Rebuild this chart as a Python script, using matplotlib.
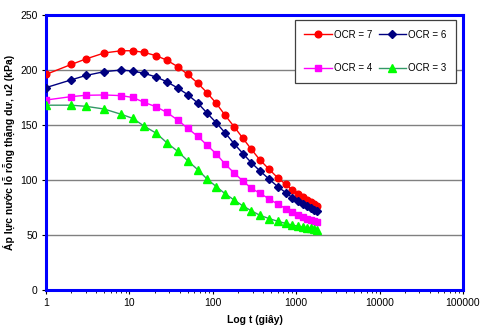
import matplotlib
matplotlib.use("Agg")
import matplotlib.pyplot as plt
from matplotlib.ticker import LogLocator, NullFormatter, FixedLocator

plt.rcParams['font.family'] = ['Liberation Sans', 'DejaVu Sans']

t = [1, 2, 3, 5, 8, 11, 15, 21, 28, 38, 50, 66, 85, 110, 140, 180, 230, 290,
     365, 470, 600, 750, 900, 1050, 1200, 1350, 1500, 1650, 1800]

ocr7 = [196, 205, 210, 215.5, 217.5, 217.5, 216, 213, 209, 203, 196, 188, 179.5,
        169.7, 159, 148.5, 137.9, 127.9, 118.5, 110, 102, 96, 91, 87.5, 84.5, 82,
        80, 78, 76.5]
ocr6 = [184, 191, 195, 198.5, 200, 199, 197, 193.6, 189.4, 183.6, 177.6, 170, 161,
        152, 143, 133, 124, 115.7, 108.5, 101, 94, 88.5, 84, 81, 78, 76, 74.5,
        73, 71.5]
ocr4 = [172.7, 175.8, 177, 177.3, 176.7, 175, 170.6, 166.5, 161.5, 154.5, 147, 139.7,
        131.8, 123.7, 114.6, 106.4, 99, 92.5, 88, 83, 78, 74, 70.5, 68, 66, 64.5,
        63.5, 62.5, 62]
ocr3 = [168, 168, 167, 164.5, 159.7, 156, 149, 142.5, 134, 126, 117.5, 109.4, 101,
        94, 87.6, 81.8, 76.4, 72, 68, 65, 62.5, 60.5, 59, 58, 57, 56.5, 56, 55.5, 55]

labels = ["OCR = 7", "OCR = 6", "OCR = 4", "OCR = 3"]
xticks = [1, 10, 100, 1000, 10000, 100000]
xticklabels = ["1", "10", "100", "1000", "10000", "100000"]
yticks = [0, 50, 100, 150, 200, 250]

fig = plt.figure(figsize=(4.81, 3.33), dpi=100)
ax = fig.add_axes([46/481, 1-290/333, 417/481, 275/333])

l7, = ax.plot(t, ocr7, color='#FF0000', lw=1, marker='o', ms=4.8,
              mfc='#FF0000', mec='#FF0000', label=labels[0], zorder=5)
l6, = ax.plot(t, ocr6, color='#000080', lw=1, marker='D', ms=3.8,
              mfc='#000080', mec='#000080', label=labels[1], zorder=5)
l4, = ax.plot(t, ocr4, color='#FF00FF', lw=1, marker='s', ms=4.5,
              mfc='#FF00FF', mec='#FF00FF', label=labels[2], zorder=5)
l3, = ax.plot(t, ocr3, color='#339966', lw=1, marker='^', ms=5.2,
              mfc='#00FF00', mec='#00FF00', label=labels[3], zorder=5)

ax.set_xscale('log')
ax.set_xlim(1, 100000)
ax.set_ylim(0, 250)
ax.xaxis.set_major_locator(FixedLocator(xticks))
ax.set_xticklabels(xticklabels)
ax.xaxis.set_minor_locator(LogLocator(base=10, subs=range(2, 10), numticks=20))
ax.xaxis.set_minor_formatter(NullFormatter())
ax.set_yticks(yticks)

ax.yaxis.grid(True, color='#808080', lw=1)
ax.set_axisbelow(True)
for s in ax.spines.values():
    s.set_color('#0000FF')
    s.set_linewidth(2.2)

ax.tick_params(axis='both', which='major', labelsize=7.5, length=3, width=0.8,
               color='#000000', pad=3)
ax.tick_params(axis='x', which='minor', length=2, width=0.6)

ax.set_xlabel("Log t (giây)", fontsize=7.5, fontweight='bold', labelpad=5)
ax.set_ylabel("Áp lực nước lỗ rỗng thặng dư, u2 (kPa)", fontsize=7.5,
              fontweight='bold', labelpad=4)

leg = ax.legend(handles=[l7, l4, l6, l3], ncol=2, loc='upper right',
                bbox_to_anchor=(0.983, 0.982), borderaxespad=0.0, fontsize=7,
                frameon=True, fancybox=False, edgecolor='#404040', framealpha=1,
                handlelength=2.8, labelspacing=2.4, columnspacing=0.7,
                handletextpad=0.2, borderpad=1.0)
leg.get_frame().set_linewidth(0.9)

fig.savefig("out.png", dpi=100)
